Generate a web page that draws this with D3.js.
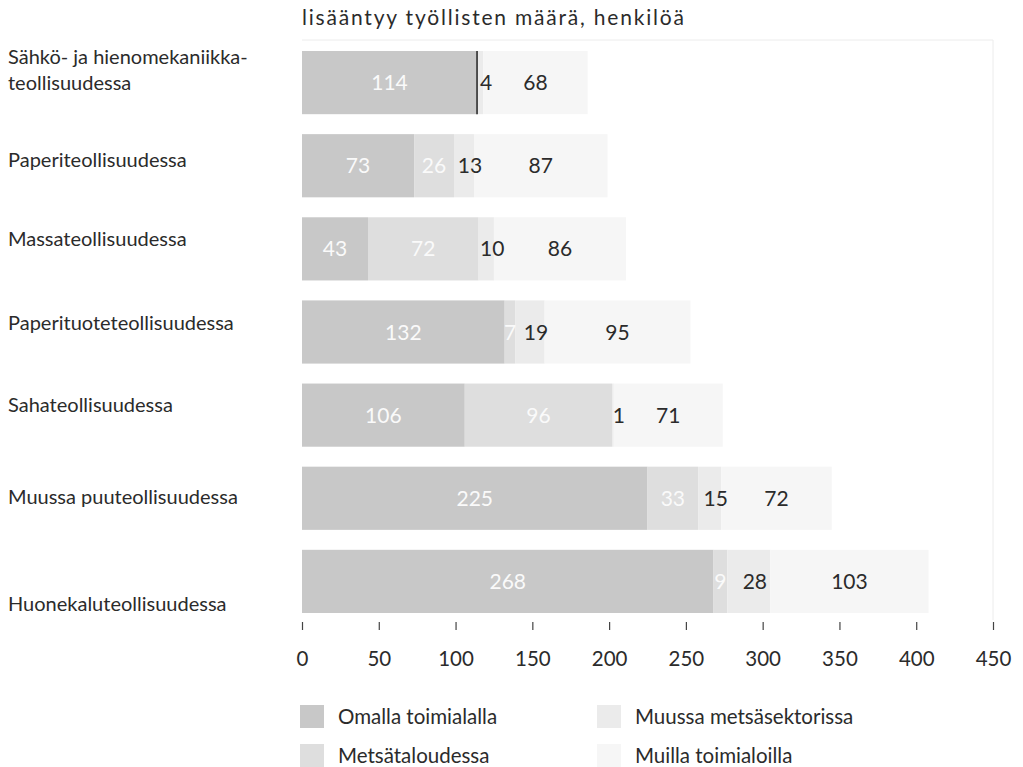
<!DOCTYPE html>
<html>
<head>
<meta charset="utf-8">
<script src="https://cdn.jsdelivr.net/npm/d3@7"></script>
<style>
  body { margin: 0; background: #fff; }
  svg { display: block; font-family: "Lato", "DejaVu Sans", sans-serif; }
</style>
</head>
<body>
<div id="chart"></div>
<script>
// Categories (label lines) and series values
const categories = [
    "Sähkö- ja hienomekaniikka-\nteollisuudessa",
    "Paperiteollisuudessa",
    "Massateollisuudessa",
    "Paperituoteteollisuudessa",
    "Sahateollisuudessa",
    "Muussa puuteollisuudessa",
    "Huonekaluteollisuudessa"
];
const omallaToimialalla = [114, 73, 43, 132, 106, 225, 268];
const metsataloudessa = [0, 26, 72, 7, 96, 33, 9];
const muussaMetsasektorissa = [4, 13, 10, 19, 1, 15, 28];
const muillaToimialoilla = [68, 87, 86, 95, 71, 72, 103];
const seriesNames = ["Omalla toimialalla", "Metsätaloudessa", "Muussa metsäsektorissa", "Muilla toimialoilla"];
const xTicks = [0, 50, 100, 150, 200, 250, 300, 350, 400, 450];
const title = "lisääntyy työllisten määrä, henkilöä";

const colors = ["#c8c8c8", "#dedede", "#ebebeb", "#f6f6f6"];
const labelColors = ["#fafafa", "#fafafa", "#2b2b2b", "#2b2b2b"];

const width = 1023, height = 767;
const svg = d3.select("#chart").append("svg")
    .attr("width", width)
    .attr("height", height);

const x = d3.scaleLinear().domain([0, 450]).range([302, 993]);
const y = d3.scaleBand()
    .domain(d3.range(categories.length))
    .range([51, 613])
    .paddingInner(0.24)
    .paddingOuter(0);

// stacked table built from the series arrays
const table = categories.map((c, i) => ({
    i: i,
    s0: omallaToimialalla[i],
    s1: metsataloudessa[i],
    s2: muussaMetsasektorissa[i],
    s3: muillaToimialoilla[i]
}));
const stack = d3.stack().keys(["s0", "s1", "s2", "s3"])(table);

// faint frame
svg.append("line")
    .attr("x1", x(0)).attr("x2", x(450))
    .attr("y1", 40).attr("y2", 40)
    .attr("stroke", "#ececec");
svg.append("line")
    .attr("x1", x(450)).attr("x2", x(450))
    .attr("y1", 40).attr("y2", 620)
    .attr("stroke", "#ececec");

// title
svg.append("text")
    .attr("x", 302).attr("y", 25)
    .attr("font-size", 21)
    .attr("letter-spacing", 1.8)
    .attr("fill", "#2b2b2b")
    .text(title);

// bars
stack.forEach((layer, k) => {
    svg.append("g").selectAll("rect")
        .data(layer)
        .join("rect")
        .attr("x", d => x(d[0]))
        .attr("y", d => y(d.data.i))
        .attr("width", d => x(d[1]) - x(d[0]))
        .attr("height", y.bandwidth())
        .attr("fill", colors[k]);
});

// separator line where the second series is empty
svg.append("g").selectAll("line")
    .data(table.filter(d => d.s1 === 0))
    .join("line")
    .attr("x1", d => x(d.s0)).attr("x2", d => x(d.s0))
    .attr("y1", d => y(d.i)).attr("y2", d => y(d.i) + y.bandwidth())
    .attr("stroke", "#222")
    .attr("stroke-width", 1.5);

// value labels
stack.forEach((layer, k) => {
    svg.append("g").selectAll("text")
        .data(layer.filter(d => d[1] - d[0] > 0))
        .join("text")
        .attr("x", d => (x(d[0]) + x(d[1])) / 2 + (k === 2 ? 6 : 0))
        .attr("y", d => y(d.data.i) + y.bandwidth() / 2)
        .attr("dy", "0.36em")
        .attr("text-anchor", "middle")
        .attr("font-size", 21)
        .attr("fill", labelColors[k])
        .text(d => d[1] - d[0]);
});

// category labels (shifted a little as in the print)
const labelShift = [-13, -6, -10, -9, -10, -1, 22];
const catG = svg.append("g");
categories.forEach((c, i) => {
    const lines = c.split("\n");
    const cy = y(i) + y.bandwidth() / 2 + labelShift[i];
    const t = catG.append("text")
        .attr("x", 8)
        .attr("font-size", 20)
        .attr("fill", "#2b2b2b");
    lines.forEach((ln, j) => {
        t.append("tspan")
            .attr("x", 8)
            .attr("y", cy + (j - (lines.length - 1) / 2) * 26)
            .attr("dy", "0.36em")
            .text(ln);
    });
});

// x axis
const axis = svg.append("g")
    .attr("transform", "translate(0,622)")
    .call(d3.axisBottom(x).tickValues(xTicks).tickSize(8).tickPadding(21));
axis.select(".domain").remove();
axis.selectAll(".tick line").attr("stroke", "#444").attr("stroke-width", 1.2);
axis.selectAll(".tick text")
    .attr("font-size", 20.5)
    .attr("font-family", "Lato, sans-serif")
    .attr("fill", "#2b2b2b");

// legend
const legendPos = [[300, 705], [300, 744], [597, 705], [597, 744]];
seriesNames.forEach((name, k) => {
    const [lx, ly] = legendPos[k];
    svg.append("rect")
        .attr("x", lx).attr("y", ly)
        .attr("width", 24).attr("height", 23)
        .attr("fill", colors[k]);
    svg.append("text")
        .attr("x", lx + 38).attr("y", ly + 12)
        .attr("dy", "0.36em")
        .attr("font-size", 20.5)
        .attr("fill", "#2b2b2b")
        .text(name);
});
</script>
</body>
</html>
